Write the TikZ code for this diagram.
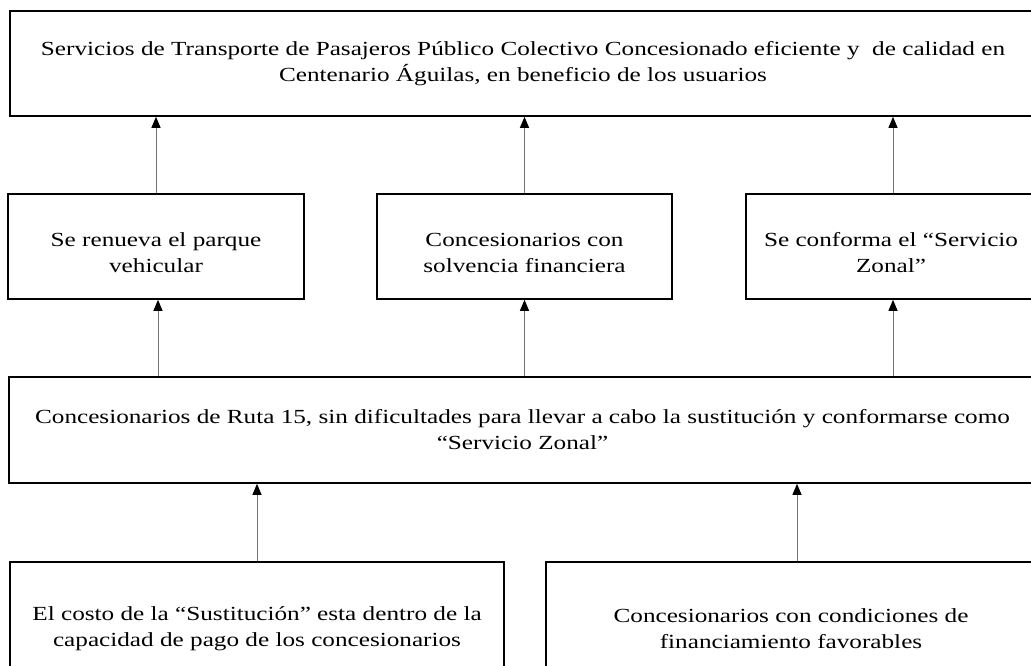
\documentclass[tikz,border=0pt]{standalone}
\usepackage{fontspec}
\setmainfont{Liberation Serif}[FakeStretch=1.26]
\usetikzlibrary{arrows.meta}

\begin{document}
\begin{tikzpicture}[
    x=1pt, y=-1pt,
    box/.style={
        draw=black,
        line width=1.6pt,
        minimum height=105pt,
        inner sep=0pt,
        font=\fontsize{20}{26}\selectfont,
        align=center,
    },
    link/.style={
        draw=black!55,
        line width=1pt,
        -{Triangle[width=9pt,length=11pt,color=black]},
    },
]
\useasboundingbox (0,0) rectangle (1031,665);

% objective
\node[box, minimum width=1026pt] (G) at (523, 63.5)
    {Servicios de Transporte de Pasajeros Público Colectivo Concesionado eficiente y\ \ de calidad en\\Centenario Águilas, en beneficio de los usuarios};

% results
\node[box, minimum width=296pt, text height=52pt] (R1) at (156, 246.5) {Se renueva el parque\\vehicular};
\node[box, minimum width=295pt, text height=52pt] (R2) at (524.5, 246.5) {Concesionarios con\\solvencia financiera};
\node[box, minimum width=290pt, text height=52pt] (R3) at (891, 246.5) {Se conforma el “Servicio\\Zonal”};

% purpose
\node[box, minimum width=1027pt, minimum height=106pt] (M) at (522.5, 430)
    {Concesionarios de Ruta 15, sin dificultades para llevar a cabo la sustitución y conformarse como\\“Servicio Zonal”};

% conditions
\node[box, minimum width=494pt, minimum height=134pt] (C1) at (257, 629)
    {El costo de la “Sustitución” esta dentro de la\\capacidad de pago de los concesionarios};
\node[box, minimum width=490pt, minimum height=134pt] (C2) at (791, 629)
    {Concesionarios con condiciones de\\financiamiento favorables};

\draw[link] (R1.north) -- (R1.north |- G.south);
\draw[link] (R2.north) -- (R2.north |- G.south);
\draw[link] ([xshift=2pt]R3.north) -- ([xshift=2pt]R3.north |- G.south);

\draw[link] ([xshift=2pt]R1.south |- M.north) -- ([xshift=2pt]R1.south);
\draw[link] (R2.south |- M.north) -- (R2.south);
\draw[link] ([xshift=2pt]R3.south |- M.north) -- ([xshift=2pt]R3.south);

\draw[link] (C1.north) -- (C1.north |- M.south);
\draw[link] ([xshift=6pt]C2.north) -- ([xshift=6pt]C2.north |- M.south);

\end{tikzpicture}
\end{document}
